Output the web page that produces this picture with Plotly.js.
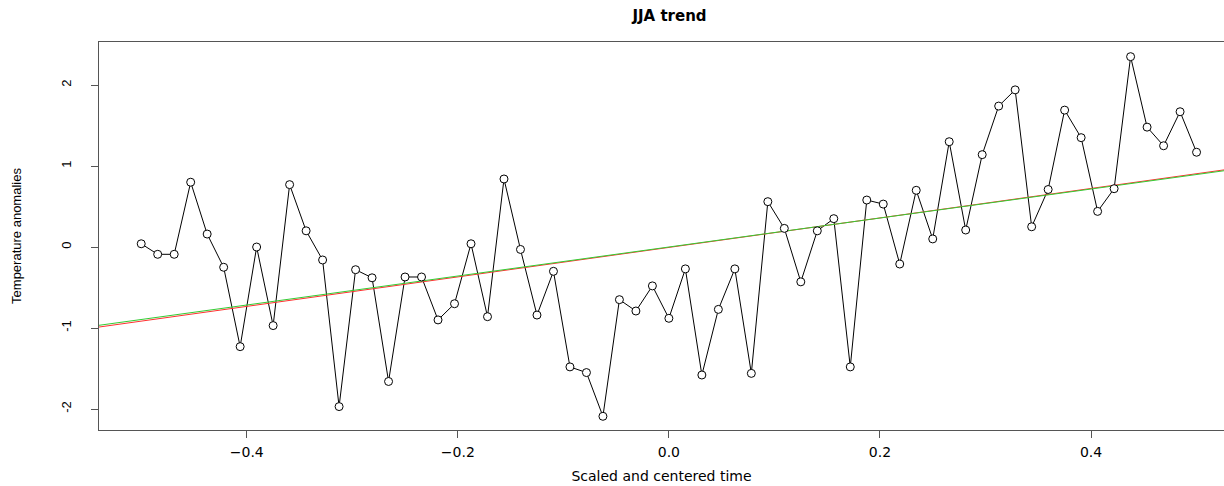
<!DOCTYPE html>
<html>
<head>
<meta charset="utf-8">
<script src="https://cdn.plot.ly/plotly-3.0.1.min.js"></script>
<style>
html,body{margin:0;padding:0;background:#fff;}
#chart{width:1224px;height:486px;}
</style>
</head>
<body>
<div id="chart"></div>
<script>
// 65 equally spaced scaled/centered time points from -0.5 to 0.5
const nPoints = 65;
const timeStart = -0.5;
const timeEnd = 0.5;

// JJA temperature anomalies
const anomalies = [
  0.04, -0.09, -0.09, 0.80, 0.16, -0.25, -1.23, 0.00, -0.97, 0.77,
  0.20, -0.16, -1.97, -0.28, -0.38, -1.66, -0.37, -0.37, -0.90, -0.70,
  0.04, -0.86, 0.84, -0.03, -0.84, -0.30, -1.48, -1.55, -2.09, -0.65,
  -0.79, -0.48, -0.88, -0.27, -1.58, -0.77, -0.27, -1.56, 0.56, 0.23,
  -0.43, 0.20, 0.35, -1.48, 0.58, 0.53, -0.21, 0.70, 0.10, 1.30,
  0.21, 1.14, 1.74, 1.94, 0.25, 0.71, 1.69, 1.35, 0.44, 0.72,
  2.35, 1.48, 1.25, 1.67, 1.17
];

// Trend line coefficients [intercept, slope]
const redTrend = [-0.005, 1.82];
const greenTrend = [0.0, 1.79];
const trendSpan = [-0.6, 0.6];

const xTickVals = [-0.4, -0.2, 0.0, 0.2, 0.4];
const xTickText = ["\u22120.4", "\u22120.2", "0.0", "0.2", "0.4"];
const yTickVals = [-2, -1, 0, 1, 2];
const yTickText = ["-2", "-1", "0", "1", "2"];

const times = anomalies.map((_, i) => timeStart + i * (timeEnd - timeStart) / (nPoints - 1));
const lineY = coef => trendSpan.map(x => coef[0] + coef[1] * x);

const font = "Liberation Sans, Arial, sans-serif";
const wideFont = "DejaVu Sans, Liberation Sans, sans-serif";

const traces = [
  {
    x: times, y: anomalies, type: "scatter", mode: "lines",
    line: {color: "#000", width: 1}, hoverinfo: "skip", showlegend: false
  },
  {
    x: trendSpan, y: lineY(redTrend), type: "scatter", mode: "lines",
    line: {color: "#ff3030", width: 1}, showlegend: false
  },
  {
    x: trendSpan, y: lineY(greenTrend), type: "scatter", mode: "lines",
    line: {color: "#33cc33", width: 1}, showlegend: false
  },
  {
    x: times, y: anomalies, type: "scatter", mode: "markers",
    marker: {symbol: "circle", size: 8, color: "#fff", line: {color: "#000", width: 1}},
    showlegend: false
  }
];

const layout = {
  width: 1224, height: 486,
  margin: {l: 99, r: 0, t: 42, b: 56},
  paper_bgcolor: "#fff", plot_bgcolor: "#fff",
  font: {family: font, color: "#000", size: 13},
  title: {text: "<b>JJA trend</b>", x: 0.547, xanchor: "center", y: 0.968, yanchor: "middle",
          font: {family: wideFont, size: 15, color: "#000"}},
  xaxis: {
    range: [-0.540, 0.526], showgrid: false, zeroline: false,
    showline: true, linecolor: "#555", linewidth: 1, mirror: true,
    ticks: "outside", ticklen: 7, tickcolor: "#555",
    tickvals: xTickVals, ticktext: xTickText,
    tickfont: {family: wideFont, size: 14}, ticklabelstandoff: 2,
    title: {text: "Scaled and centered time", font: {family: wideFont, size: 14}, standoff: 12}
  },
  yaxis: {
    range: [-2.259, 2.531], showgrid: false, zeroline: false,
    showline: true, linecolor: "#555", linewidth: 1,
    ticks: "outside", ticklen: 7, tickcolor: "#555",
    tickvals: yTickVals, ticktext: yTickText, tickangle: -90,
    tickfont: {family: font, size: 13}, ticklabelstandoff: 15,
    title: {text: "Temperature anomalies", font: {family: font, size: 13}, standoff: 34}
  }
};

Plotly.newPlot("chart", traces, layout, {displayModeBar: false, staticPlot: true});
</script>
</body>
</html>
